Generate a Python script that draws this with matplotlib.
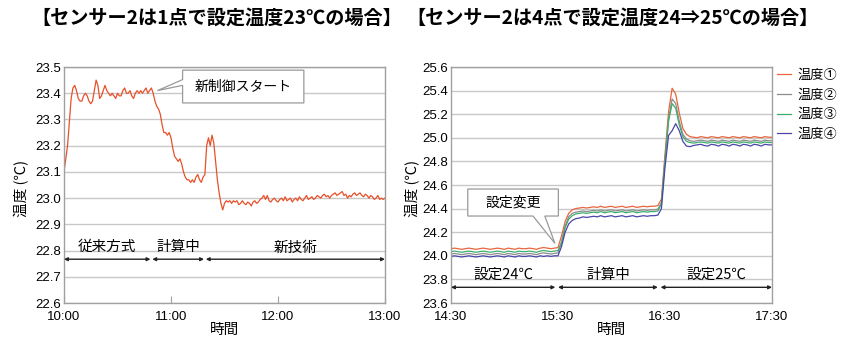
import matplotlib
matplotlib.use("Agg")
import matplotlib.pyplot as plt
from matplotlib.patches import Polygon

plt.rcParams['font.family'] = ['Noto Sans CJK JP', 'DejaVu Sans']

# --- left chart: sensor 2 at one point, setpoint 23 C (one reading per minute from 10:00)
left_minutes = list(range(0, 181))
left_temp = [
    23.10, 23.15, 23.20, 23.29, 23.38, 23.42, 23.43, 23.41, 23.38, 23.37,
    23.37, 23.39, 23.40, 23.39, 23.37, 23.36, 23.37, 23.41, 23.45, 23.43,
    23.38, 23.39, 23.41, 23.43, 23.41, 23.40, 23.39, 23.40, 23.39, 23.38,
    23.40, 23.39, 23.39, 23.41, 23.42, 23.40, 23.40, 23.41, 23.39, 23.38,
    23.40, 23.41, 23.40, 23.41, 23.40, 23.41, 23.42, 23.40, 23.41, 23.42,
    23.40, 23.37, 23.35, 23.34, 23.32, 23.28, 23.25, 23.25, 23.24, 23.25,
    23.23, 23.19, 23.16, 23.15, 23.14, 23.15, 23.13, 23.10, 23.08, 23.07,
    23.07, 23.06, 23.07, 23.06, 23.08, 23.09, 23.07, 23.06, 23.08, 23.09,
    23.20, 23.23, 23.20, 23.24, 23.21, 23.14, 23.07, 23.02, 22.98, 22.955,
    22.98, 22.99, 22.985, 22.99, 22.98, 22.99, 22.985, 22.99, 22.975, 22.98,
    22.99, 22.98, 22.975, 22.985, 22.98, 22.97, 22.985, 22.99, 22.98, 22.985,
    22.995, 23.00, 23.01, 22.995, 23.01, 22.99, 22.985, 22.995, 23.00, 22.99,
    22.985, 22.995, 23.00, 22.99, 23.005, 22.99, 22.995, 23.00, 22.985, 22.995,
    23.00, 22.99, 23.005, 22.995, 22.99, 23.00, 23.01, 22.995, 23.00, 23.005,
    22.995, 23.00, 23.01, 23.005, 23.00, 23.01, 23.015, 23.005, 23.01, 23.00,
    23.01, 23.015, 23.02, 23.01, 23.015, 23.02, 23.025, 23.01, 23.015, 23.00,
    23.01, 23.005, 23.015, 23.02, 23.01, 23.015, 23.02, 23.01, 23.005, 23.015,
    23.01, 23.00, 23.01, 23.005, 22.995, 23.00, 23.01, 22.995, 23.00, 22.995,
    23.00,
]
left_ticks = [0, 60, 120, 180]
left_ticklabels = ['10:00', '11:00', '12:00', '13:00']
left_yticks = [22.6, 22.7, 22.8, 22.9, 23.0, 23.1, 23.2, 23.3, 23.4, 23.5]
left_spans = [(0, 48.5, '従来方式'), (49.5, 78.5, '計算中'), (79.5, 180, '新技術')]

# --- right chart: sensor 2 at four points, setpoint 24 -> 25 C (every 2 min from 14:30)
right_minutes = list(range(0, 181, 2))
temp1 = [
    24.06, 24.065, 24.06, 24.055, 24.06, 24.065, 24.06, 24.055, 24.06, 24.065,
    24.06, 24.055, 24.06, 24.065, 24.06, 24.055, 24.065, 24.06, 24.055, 24.065,
    24.06, 24.06, 24.065, 24.06, 24.055, 24.065, 24.07, 24.065, 24.06, 24.065,
    24.07, 24.17, 24.29, 24.36, 24.39, 24.40, 24.405, 24.41, 24.405, 24.41,
    24.415, 24.41, 24.42, 24.41, 24.415, 24.42, 24.41, 24.415, 24.42, 24.41,
    24.415, 24.42, 24.41, 24.415, 24.42, 24.415, 24.42, 24.42, 24.425, 24.48,
    24.86, 25.22, 25.42, 25.37, 25.21, 25.08, 25.03, 25.01, 25.005, 25.00,
    25.01, 25.005, 25.00, 25.01, 25.005, 25.00, 25.01, 25.005, 25.00, 25.01,
    25.005, 25.00, 25.01, 25.005, 25.00, 25.01, 25.005, 25.00, 25.01, 25.005,
    25.005,
]
temp2 = [
    24.015, 24.02, 24.015, 24.01, 24.015, 24.02, 24.015, 24.01, 24.015, 24.02,
    24.015, 24.01, 24.015, 24.02, 24.015, 24.01, 24.02, 24.015, 24.01, 24.02,
    24.015, 24.015, 24.02, 24.015, 24.01, 24.02, 24.025, 24.02, 24.015, 24.02,
    24.025, 24.12, 24.25, 24.33, 24.36, 24.37, 24.375, 24.38, 24.375, 24.38,
    24.385, 24.38, 24.39, 24.38, 24.385, 24.39, 24.38, 24.385, 24.39, 24.38,
    24.385, 24.39, 24.38, 24.385, 24.39, 24.385, 24.39, 24.39, 24.395, 24.45,
    24.82, 25.16, 25.33, 25.29, 25.14, 25.03, 24.99, 24.975, 24.97, 24.975,
    24.98, 24.975, 24.97, 24.98, 24.975, 24.97, 24.98, 24.975, 24.97, 24.98,
    24.975, 24.97, 24.98, 24.975, 24.97, 24.98, 24.975, 24.97, 24.98, 24.975,
    24.975,
]
temp3 = [
    24.035, 24.04, 24.035, 24.03, 24.035, 24.04, 24.035, 24.03, 24.035, 24.04,
    24.035, 24.03, 24.035, 24.04, 24.035, 24.03, 24.04, 24.035, 24.03, 24.04,
    24.035, 24.035, 24.04, 24.035, 24.03, 24.04, 24.045, 24.04, 24.035, 24.04,
    24.045, 24.11, 24.24, 24.31, 24.34, 24.355, 24.36, 24.365, 24.36, 24.365,
    24.37, 24.365, 24.375, 24.365, 24.37, 24.375, 24.365, 24.37, 24.375, 24.365,
    24.37, 24.375, 24.365, 24.37, 24.375, 24.37, 24.375, 24.375, 24.38, 24.44,
    24.80, 25.14, 25.29, 25.25, 25.11, 25.01, 24.97, 24.96, 24.955, 24.96,
    24.965, 24.96, 24.955, 24.965, 24.96, 24.955, 24.965, 24.96, 24.955, 24.965,
    24.96, 24.955, 24.965, 24.96, 24.955, 24.965, 24.96, 24.955, 24.965, 24.96,
    24.96,
]
temp4 = [
    23.995, 24.0, 23.995, 23.99, 23.995, 24.0, 23.995, 23.99, 23.995, 24.0,
    23.995, 23.99, 23.995, 24.0, 23.995, 23.99, 24.0, 23.995, 23.99, 24.0,
    23.995, 23.995, 24.0, 23.995, 23.99, 24.0, 23.995, 24.0, 23.995, 24.0,
    24.0, 24.08, 24.20, 24.27, 24.30, 24.315, 24.32, 24.33, 24.325, 24.33,
    24.335, 24.33, 24.34, 24.33, 24.335, 24.34, 24.33, 24.335, 24.34, 24.33,
    24.335, 24.34, 24.33, 24.335, 24.34, 24.335, 24.34, 24.34, 24.345, 24.40,
    24.75, 25.02, 25.06, 25.12, 25.06, 24.97, 24.93, 24.925, 24.935, 24.94,
    24.945, 24.935, 24.93, 24.945, 24.94, 24.93, 24.945, 24.94, 24.93, 24.945,
    24.94, 24.93, 24.945, 24.94, 24.93, 24.945, 24.94, 24.93, 24.945, 24.94,
    24.94,
]
series_names = ['温度①', '温度②', '温度③', '温度④']
series_colors = ['#E8643C', '#8C8C8C', '#3DAE6E', '#4A46A8']
right_ticks = [0, 60, 120, 180]
right_ticklabels = ['14:30', '15:30', '16:30', '17:30']
right_yticks = [23.6, 23.8, 24.0, 24.2, 24.4, 24.6, 24.8, 25.0, 25.2, 25.4, 25.6]
right_spans = [(0, 58.5, '設定24℃'), (60, 116, '計算中'), (117.5, 180, '設定25℃')]

W, H = 848, 350
fig = plt.figure(figsize=(W / 100, H / 100), dpi=100)
ax1 = fig.add_axes([64 / W, 47 / H, 321 / W, 236 / H])
ax2 = fig.add_axes([451 / W, 47 / H, 321 / W, 236 / H])

tick_font = ['Liberation Sans', 'DejaVu Sans']


def style_axes(ax, yticks, xticks, xlabels, tick_len):
    ax.set_xlim(0, 180)
    ax.set_ylim(yticks[0], yticks[-1])
    ax.set_yticks(yticks)
    ax.set_yticklabels(['{:.1f}'.format(v) for v in yticks], family=tick_font, fontsize=9.5)
    ax.set_xticks(xticks)
    ax.set_xticklabels(xlabels, family=tick_font, fontsize=9.5)
    ax.grid(axis='y', color='#c8c8c8', linewidth=1.0)
    ax.set_axisbelow(True)
    for s in ax.spines.values():
        s.set_color('#a0a0a0')
        s.set_linewidth(1.0)
    ax.tick_params(axis='y', length=0, pad=2)
    ax.tick_params(axis='x', direction='in', length=tick_len, color='#a0a0a0', pad=6)


def draw_spans(ax, spans, y_arrow, y_text):
    for x0, x1, label in spans:
        ax.annotate('', xy=(x1, y_arrow), xytext=(x0, y_arrow),
                    arrowprops=dict(arrowstyle='<|-|>', color='#222222', lw=1.0,
                                    mutation_scale=5, shrinkA=0, shrinkB=0))
        ax.text((x0 + x1) / 2, y_text, label, ha='center', va='center', fontsize=10.5)


def callout(ax, box, base, tip, label, fontsize):
    # box = (x0, y0, x1, y1); base = two points on the box edge; tip = pointer end
    x0, y0, x1, y1 = box
    pts = base['path'](x0, y0, x1, y1, base['a'], base['b'], tip)
    ax.add_patch(Polygon(pts, closed=True, facecolor='white', edgecolor='#9a9a9a',
                         linewidth=0.9, zorder=5, clip_on=False))
    ax.text((x0 + x1) / 2, (y0 + y1) / 2, label, ha='center', va='center',
            fontsize=fontsize, zorder=6)


def left_edge_path(x0, y0, x1, y1, a, b, tip):
    # pointer sticks out of the left side, between heights a (upper) and b (lower)
    return [(x0, y1), (x1, y1), (x1, y0), (x0, y0), (x0, b), tip, (x0, a)]


def bottom_edge_path(x0, y0, x1, y1, a, b, tip):
    # pointer sticks out of the bottom side, between x positions a and b
    return [(x0, y1), (x1, y1), (x1, y0), (b, y0), tip, (a, y0), (x0, y0)]


# left chart
style_axes(ax1, left_yticks, left_ticks, left_ticklabels, 5)
ax1.plot(left_minutes, left_temp, color='#E8502A', linewidth=0.9)
draw_spans(ax1, left_spans, 22.767, 22.812)
callout(ax1, (66.5, 23.363, 134.5, 23.488),
        dict(path=left_edge_path, a=23.452, b=23.43), (52.4, 23.41), '新制御スタート', 10)
ax1.set_xlabel('時間', fontsize=10.5, labelpad=0)

# right chart
style_axes(ax2, right_yticks, right_ticks, right_ticklabels, 0)
for vals, name, col in zip([temp1, temp2, temp3, temp4], series_names, series_colors):
    ax2.plot(right_minutes, vals, color=col, linewidth=0.9, label=name)
draw_spans(ax2, right_spans, 23.733, 23.838)
callout(ax2, (9.4, 24.337, 60.2, 24.566),
        dict(path=bottom_edge_path, a=46.0, b=52.6), (58.3, 24.105), '設定変更', 10)
ax2.set_xlabel('時間', fontsize=10.5, labelpad=0)
ax2.legend(loc='upper left', bbox_to_anchor=(0.99, 1.025), frameon=False, fontsize=9.5,
           handlelength=1.1, handletextpad=0.5, labelspacing=0.5, borderaxespad=0.2)

# titles and y labels
fig.text(31 / W, 1 - 18 / H, '【センサー2は1点で設定温度23℃の場合】', ha='left', va='center',
         fontsize=13.8, fontweight='bold')
fig.text(406 / W, 1 - 18 / H, '【センサー2は4点で設定温度24⇒25℃の場合】', ha='left', va='center',
         fontsize=13.8, fontweight='bold')
fig.text(22 / W, 1 - 188 / H, '温度 (℃)', rotation=90, ha='center', va='center', fontsize=10.5)
fig.text(413 / W, 1 - 188 / H, '温度 (℃)', rotation=90, ha='center', va='center', fontsize=10.5)

fig.savefig('out.png', dpi=100, facecolor='white')
